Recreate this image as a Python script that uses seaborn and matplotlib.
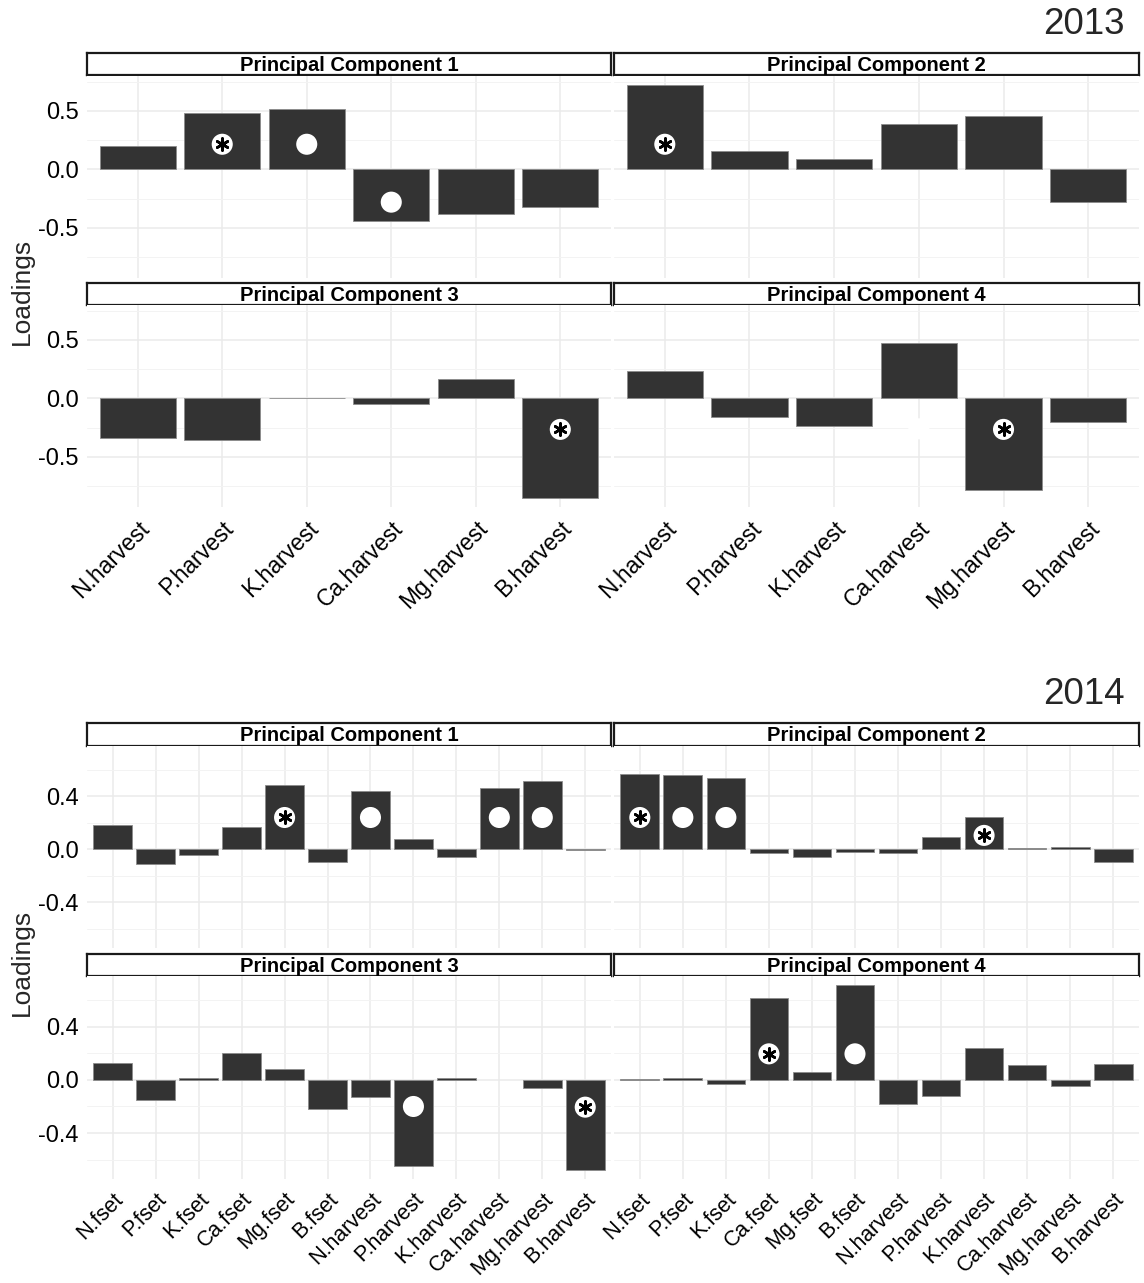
import numpy as np
import pandas as pd
import matplotlib
matplotlib.use("Agg")
import matplotlib.pyplot as plt
import seaborn as sns
from matplotlib.ticker import MultipleLocator, FormatStrFormatter

# ---- loadings -------------------------------------------------------------
pc_names = ["Principal Component 1", "Principal Component 2",
            "Principal Component 3", "Principal Component 4"]

vars_2013 = ["N.harvest", "P.harvest", "K.harvest", "Ca.harvest", "Mg.harvest", "B.harvest"]
pc1_2013 = [0.20, 0.48, 0.52, -0.44, -0.38, -0.32]
pc2_2013 = [0.72, 0.16, 0.09, 0.39, 0.46, -0.28]
pc3_2013 = [-0.34, -0.355, 0.005, -0.045, 0.17, -0.85]
pc4_2013 = [0.23, -0.155, -0.24, 0.475, -0.78, -0.205]

vars_2014 = ["N.fset", "P.fset", "K.fset", "Ca.fset", "Mg.fset", "B.fset",
             "N.harvest", "P.harvest", "K.harvest", "Ca.harvest", "Mg.harvest", "B.harvest"]
pc1_2014 = [0.18, -0.11, -0.045, 0.17, 0.485, -0.095, 0.44, 0.08, -0.058, 0.465, 0.515, -0.003]
pc2_2014 = [0.57, 0.56, 0.54, -0.025, -0.058, -0.018, -0.025, 0.093, 0.245, 0.01, 0.018, -0.095]
pc3_2014 = [0.13, -0.15, 0.01, 0.20, 0.085, -0.22, -0.13, -0.645, 0.01, np.nan, -0.058, -0.675]
pc4_2014 = [0.003, 0.01, -0.03, 0.615, 0.06, 0.71, -0.18, -0.125, 0.24, 0.11, -0.045, 0.12]

# significance symbols: year, component, variable, kind, loading level
mark_year = [2013, 2013, 2013, 2013, 2013, 2013, 2013,
             2014, 2014, 2014, 2014, 2014, 2014, 2014, 2014, 2014, 2014, 2014, 2014]
mark_pc = [1, 1, 1, 2, 3, 4, 4,
           1, 1, 1, 1, 2, 2, 2, 2, 3, 3, 4, 4]
mark_var = ["P.harvest", "K.harvest", "Ca.harvest", "N.harvest", "B.harvest", "Mg.harvest", "Ca.harvest",
            "Mg.fset", "N.harvest", "Ca.harvest", "Mg.harvest",
            "N.fset", "P.fset", "K.fset", "K.harvest",
            "P.harvest", "B.harvest", "Ca.fset", "B.fset"]
mark_kind = ["ast", "dot", "dot", "ast", "ast", "ast", "dot",
             "ast", "dot", "dot", "dot", "ast", "dot", "dot", "ast",
             "dot", "ast", "ast", "dot"]
mark_level = [0.215, 0.215, -0.28, 0.215, -0.265, -0.265, -0.26,
              0.24, 0.24, 0.24, 0.24, 0.24, 0.24, 0.24, 0.105,
              -0.20, -0.205, 0.195, 0.195]


def long_table(year, variables, comps):
    rows = []
    for k, vals in enumerate(comps, start=1):
        for v, val in zip(variables, vals):
            rows.append({"year": year, "pc": k, "variable": v, "loading": val})
    return pd.DataFrame(rows)


data = pd.concat([
    long_table(2013, vars_2013, [pc1_2013, pc2_2013, pc3_2013, pc4_2013]),
    long_table(2014, vars_2014, [pc1_2014, pc2_2014, pc3_2014, pc4_2014]),
], ignore_index=True)
marks = pd.DataFrame({"year": mark_year, "pc": mark_pc, "variable": mark_var,
                      "kind": mark_kind, "level": mark_level})

# ---- styling ---------------------------------------------------------------
sns.set_style("white")
plt.rcParams["font.family"] = ["Liberation Sans", "DejaVu Sans"]
plt.rcParams["axes.unicode_minus"] = False

W, H = 1144, 1283
fig = plt.figure(figsize=(W / 100, H / 100), dpi=100)
fig.patch.set_facecolor("white")

BAR = "#333333"
GRID = "#EBEBEB"


def px_axes(x0, y0, x1, y1):
    return fig.add_axes([x0 / W, 1 - y1 / H, (x1 - x0) / W, (y1 - y0) / H])


def strip(x0, y0, x1, y1, label):
    ax = px_axes(x0, y0, x1, y1)
    ax.set_xticks([])
    ax.set_yticks([])
    ax.set_facecolor("white")
    for s in ax.spines.values():
        s.set_visible(True)
        s.set_color("#1a1a1a")
        s.set_linewidth(1.6)
    ax.text(0.5, 0.45, label, ha="center", va="center", fontsize=14.5,
            fontweight="bold", color="black", transform=ax.transAxes)


cols = [(87, 611), (614, 1139)]
blocks = {
    2013: dict(vars=vars_2013, rows=[(53, 75, 76, 278), (283, 305, 305, 507)],
               major=0.5, minor=0.25, fmt="%.1f", title_y=25, xfs=16.5),
    2014: dict(vars=vars_2014, rows=[(723, 746, 746, 948), (954, 976, 976, 1179)],
               major=0.4, minor=0.2, fmt="%.1f", title_y=694, xfs=15.5),
}

for year, cfg in blocks.items():
    sub = data[data["year"] == year]
    lo, hi = min(sub["loading"].min(), 0), max(sub["loading"].max(), 0)
    pad = 0.05 * (hi - lo)
    ylim = (lo - pad, hi + pad)
    variables = cfg["vars"]
    n = len(variables)

    for k in range(4):
        r, c = divmod(k, 2)
        s0, s1, p0, p1 = cfg["rows"][r]
        x0, x1 = cols[c]
        strip(x0, s0, x1, s1, pc_names[k])
        ax = px_axes(x0, p0, x1, p1)
        panel = sub[sub["pc"] == k + 1].dropna(subset=["loading"])
        sns.barplot(data=panel, x="variable", y="loading", order=variables,
                    color=BAR, saturation=1, width=0.9, errorbar=None,
                    edgecolor="#8c8c8c", linewidth=0.6, ax=ax)
        ax.set_xlim(-0.6, n - 0.4)
        ax.set_ylim(*ylim)
        ax.set_axisbelow(True)
        ax.yaxis.set_major_locator(MultipleLocator(cfg["major"]))
        ax.yaxis.set_minor_locator(MultipleLocator(cfg["minor"]))
        ax.yaxis.set_major_formatter(FormatStrFormatter(cfg["fmt"]))
        ax.grid(which="major", axis="both", color=GRID, linewidth=1.1)
        ax.grid(which="minor", axis="y", color="#F3F3F3", linewidth=0.7)
        for s in ax.spines.values():
            s.set_visible(False)
        ax.set_xlabel("")
        ax.set_ylabel("")
        ax.tick_params(axis="y", which="minor", length=0)
        if c == 0:
            ax.tick_params(axis="y", which="major", length=4, width=1,
                           color="#333333", labelsize=17, pad=2,
                           labelcolor="black")
        else:
            ax.tick_params(axis="y", which="major", length=0, labelleft=False)
        ax.set_xticks(range(n))
        if r == 1:
            ax.set_xticklabels(variables, rotation=45, ha="right", va="top",
                               rotation_mode="anchor")
            ax.tick_params(axis="x", length=4, width=1, color="#333333",
                           labelsize=cfg["xfs"], pad=3, labelcolor="black")
        else:
            ax.set_xticklabels([])
            ax.tick_params(axis="x", length=0)

        # significance symbols
        pm = marks[(marks["year"] == year) & (marks["pc"] == k + 1)]
        for _, m in pm.iterrows():
            xi = variables.index(m["variable"])
            ax.scatter([xi], [m["level"]], s=230, marker="o", color="white",
                       edgecolors="none", zorder=5)
            if m["kind"] == "ast":
                ax.scatter([xi], [m["level"]], s=75, marker=(6, 2, 0),
                           color="black", linewidths=1.9, zorder=6)

    # year title and shared y label
    fig.text(1125 / W, 1 - cfg["title_y"] / H, str(year), ha="right",
             va="center", fontsize=26.5)
    r0 = cfg["rows"][0][2]
    r1 = cfg["rows"][1][3]
    fig.text(22 / W, 1 - ((r0 + r1) / 2) / H, "Loadings", rotation=90,
             ha="center", va="center", fontsize=19)

fig.savefig("out.png", dpi=100, facecolor="white")
